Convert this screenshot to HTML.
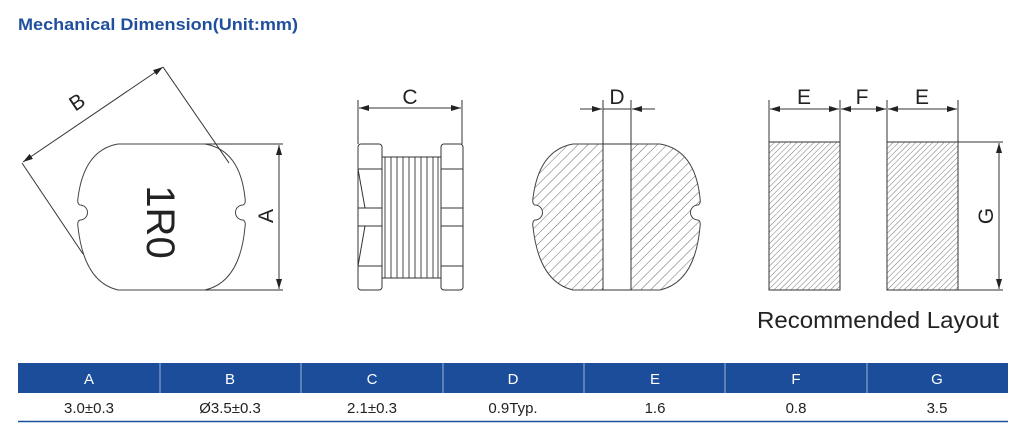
<!DOCTYPE html>
<html><head><meta charset="utf-8"><style>
html,body{margin:0;padding:0;background:#fff;}
body{width:1024px;height:444px;overflow:hidden;position:relative;font-family:"Liberation Sans",sans-serif;}
</style></head><body>
<svg width="1024" height="444" viewBox="0 0 1024 444" xmlns="http://www.w3.org/2000/svg" style="position:absolute;left:0;top:0">
<defs>
<pattern id="h" width="7" height="7" patternUnits="userSpaceOnUse" patternTransform="rotate(45)">
<line x1="0" y1="0" x2="0" y2="7" stroke="#555" stroke-width="0.9"/></pattern>
<pattern id="h2" width="4" height="4" patternUnits="userSpaceOnUse" patternTransform="rotate(45)">
<line x1="0" y1="0" x2="0" y2="4" stroke="#555" stroke-width="0.8"/></pattern>
<marker id="ar" viewBox="0 0 10 6" refX="10" refY="3" markerWidth="10" markerHeight="6" orient="auto-start-reverse" markerUnits="userSpaceOnUse"><path d="M0,0 L10,3 L0,6 Z" fill="#222"/></marker>
<path id="body" d="M118,144 L205,144 Q240,150 245,198 Q246,204 243,205 A7.5,7.5 0 0 0 243,220 Q246,221 245,227 Q240,282 205,290 L118,290 Q84,282 78,227 Q77,221 80,220 A7.5,7.5 0 0 0 80,205 Q77,204 78,198 Q84,150 118,144 Z"/>
</defs>
<text x="18" y="30" font-size="17" font-weight="bold" fill="#1f4f9e" textLength="280" lengthAdjust="spacingAndGlyphs">Mechanical Dimension(Unit:mm)</text>

<g stroke="#333" stroke-width="1" fill="none">
<use href="#body" stroke="#444"/>
<line x1="205" y1="144" x2="283" y2="144"/><line x1="205" y1="290" x2="283" y2="290"/>
<line x1="279" y1="145" x2="279" y2="289" marker-start="url(#ar)" marker-end="url(#ar)"/>
<line x1="23" y1="162" x2="163" y2="67" marker-start="url(#ar)" marker-end="url(#ar)"/>
<line x1="163" y1="67" x2="229" y2="163"/><line x1="22" y1="163" x2="83" y2="254"/>
<rect x="358" y="144" width="24" height="146" rx="3"/>
<rect x="441" y="144" width="22" height="146" rx="3"/>
<line x1="358" y1="169" x2="382" y2="169"/><line x1="358" y1="266" x2="382" y2="266"/>
<line x1="358" y1="169" x2="365" y2="208"/><line x1="358" y1="266" x2="365" y2="226"/>
<line x1="358" y1="208" x2="382" y2="208"/><line x1="358" y1="226" x2="382" y2="226"/>
<line x1="441" y1="169" x2="463" y2="169"/><line x1="441" y1="266" x2="463" y2="266"/>
<line x1="441" y1="208" x2="463" y2="208"/><line x1="441" y1="226" x2="463" y2="226"/>
<line x1="382" y1="157" x2="441" y2="157"/><line x1="382" y1="278" x2="441" y2="278"/>
<g stroke-width="0.9">
<line x1="385" y1="157" x2="385" y2="278"/><line x1="391" y1="157" x2="391" y2="278"/>
<line x1="397" y1="157" x2="397" y2="278"/><line x1="403" y1="157" x2="403" y2="278"/>
<line x1="409" y1="157" x2="409" y2="278"/><line x1="415" y1="157" x2="415" y2="278"/>
<line x1="421" y1="157" x2="421" y2="278"/><line x1="427" y1="157" x2="427" y2="278"/>
<line x1="433" y1="157" x2="433" y2="278"/><line x1="438" y1="157" x2="438" y2="278"/>
</g>
<line x1="358" y1="100" x2="358" y2="144"/><line x1="462" y1="100" x2="462" y2="144"/>
<line x1="359" y1="108" x2="461" y2="108" marker-start="url(#ar)" marker-end="url(#ar)"/>
</g>
<g transform="translate(455,0)">
<use href="#body" fill="url(#h)" stroke="#444"/>
</g>
<g stroke="#333" stroke-width="1">
<rect x="603" y="144" width="28" height="146" fill="#fff"/>
<line x1="603" y1="100" x2="603" y2="144"/><line x1="631" y1="100" x2="631" y2="144"/>
<line x1="580" y1="109" x2="602" y2="109" marker-end="url(#ar)"/>
<line x1="655" y1="109" x2="632" y2="109" marker-end="url(#ar)"/>
<line x1="603" y1="109" x2="631" y2="109"/>
<rect x="769" y="142" width="71" height="148" fill="url(#h2)"/>
<rect x="887" y="142" width="71" height="148" fill="url(#h2)"/>
<line x1="769" y1="100" x2="769" y2="142"/><line x1="840" y1="100" x2="840" y2="142"/>
<line x1="887" y1="100" x2="887" y2="142"/><line x1="958" y1="100" x2="958" y2="142"/>
<line x1="770" y1="109" x2="839" y2="109" marker-start="url(#ar)" marker-end="url(#ar)"/>
<line x1="841" y1="109" x2="886" y2="109" marker-start="url(#ar)" marker-end="url(#ar)"/>
<line x1="888" y1="109" x2="957" y2="109" marker-start="url(#ar)" marker-end="url(#ar)"/>
<line x1="958" y1="142" x2="1003" y2="142"/><line x1="958" y1="290" x2="1003" y2="290"/>
<line x1="999" y1="143" x2="999" y2="289" marker-start="url(#ar)" marker-end="url(#ar)"/>
</g>
<g fill="#222" font-size="21" text-anchor="middle">
<text x="410" y="104">C</text>
<text x="617" y="104">D</text>
<text x="804" y="104">E</text>
<text x="862" y="104">F</text>
<text x="922" y="104">E</text>
<text transform="translate(273,216) rotate(-90)">A</text>
<text transform="translate(993,216) rotate(-90)">G</text>
<text transform="translate(81,108) rotate(-34)">B</text>
<text transform="translate(147,222) rotate(90)" font-size="40">1R0</text>
<text x="878" y="328" font-size="23" textLength="242" lengthAdjust="spacingAndGlyphs">Recommended Layout</text>
</g>
<rect x="18" y="363" width="990" height="30" fill="#1b4d9a"/>
<g stroke="#9fb4d6" stroke-width="1">
<line x1="160" y1="363" x2="160" y2="393"/><line x1="301" y1="363" x2="301" y2="393"/>
<line x1="443" y1="363" x2="443" y2="393"/><line x1="584" y1="363" x2="584" y2="393"/>
<line x1="725" y1="363" x2="725" y2="393"/><line x1="867" y1="363" x2="867" y2="393"/>
</g>
<line x1="18" y1="421.5" x2="1008" y2="421.5" stroke="#1b4d9a" stroke-width="1.5"/>
<g font-size="15" text-anchor="middle" fill="#fff">
<text x="89" y="384">A</text><text x="230" y="384">B</text><text x="372" y="384">C</text>
<text x="513" y="384">D</text><text x="655" y="384">E</text><text x="796" y="384">F</text><text x="937" y="384">G</text>
</g>
<g font-size="15" text-anchor="middle" fill="#222">
<text x="89" y="413">3.0±0.3</text><text x="230" y="413">Ø3.5±0.3</text><text x="372" y="413">2.1±0.3</text>
<text x="513" y="413">0.9Typ.</text><text x="655" y="413">1.6</text><text x="796" y="413">0.8</text><text x="937" y="413">3.5</text>
</g>
</svg>
</body></html>
